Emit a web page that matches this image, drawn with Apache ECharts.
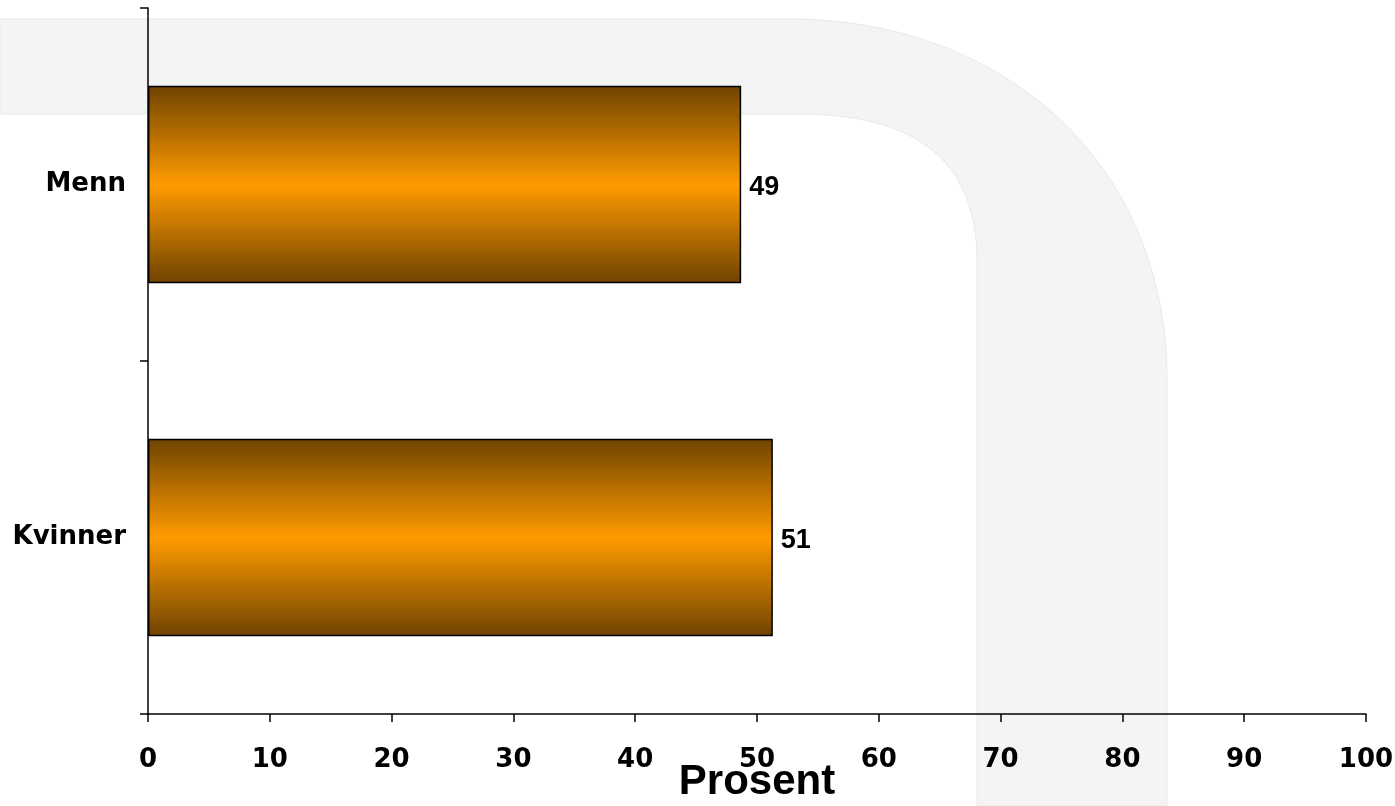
<!DOCTYPE html>
<html>
<head>
<meta charset="utf-8">
<script src="https://cdn.jsdelivr.net/npm/echarts@6/dist/echarts.min.js"></script>
<style>html,body{margin:0;padding:0;background:#fff;}#c{width:1395px;height:806px;}</style>
</head>
<body>
<div id="c"></div>
<script>
const categories = ['Menn', 'Kvinner'];
const values = [48.7, 51.3];
const xTicks = [0, 10, 20, 30, 40, 50, 60, 70, 80, 90, 100];
const axisTitle = 'Prosent';

// decorative background band (pure decoration, not data)
function bez(p0, p1, p2, p3, n) {
  const out = [];
  for (let i = 0; i <= n; i++) {
    const t = i / n, u = 1 - t;
    out.push([
      u*u*u*p0[0] + 3*u*u*t*p1[0] + 3*u*t*t*p2[0] + t*t*t*p3[0],
      u*u*u*p0[1] + 3*u*u*t*p1[1] + 3*u*t*t*p2[1] + t*t*t*p3[1]
    ]);
  }
  return out;
}
const bandPts = [[0, 19]]
  .concat(bez([790, 19], [1000, 19], [1167, 160], [1167, 380], 40))
  .concat([[1167, 806], [977, 806]])
  .concat(bez([977, 260], [977, 165], [920, 114], [800, 114], 30))
  .concat([[0, 114]]);

const chart = echarts.init(document.getElementById('c'));
const barGrad = {
  type: 'linear', x: 0, y: 0, x2: 0, y2: 1,
  colorStops: [
    {offset: 0, color: '#6e4300'},
    {offset: 0.28, color: '#c07400'},
    {offset: 0.5, color: '#ff9b00'},
    {offset: 0.72, color: '#c07400'},
    {offset: 1, color: '#6e4300'}
  ]
};
chart.setOption({
  animation: false,
  backgroundColor: '#ffffff',
  graphic: [{
    type: 'polygon',
    z: -10,
    silent: true,
    shape: {points: bandPts},
    style: {fill: '#f4f4f4', stroke: '#e9e9e9', lineWidth: 1}
  }],
  grid: {left: 148, right: 29, top: 8, bottom: 92, containLabel: false, outerBoundsMode: 'none'},
  xAxis: {
    type: 'value',
    min: xTicks[0],
    max: xTicks[xTicks.length - 1],
    interval: 10,
    name: axisTitle,
    nameLocation: 'middle',
    nameGap: 47,
    nameMoveOverlap: false,
    nameTextStyle: {fontFamily: 'Liberation Sans', fontWeight: 'bold', fontSize: 42, color: '#000'},
    axisLine: {show: true, lineStyle: {color: '#000', width: 1.5}},
    axisTick: {show: true, length: 8, lineStyle: {color: '#000', width: 1.5}},
    axisLabel: {margin: 33, fontFamily: 'DejaVu Sans', fontWeight: 'bold', fontSize: 26, color: '#000'},
    splitLine: {show: false}
  },
  yAxis: {
    type: 'category',
    data: categories,
    inverse: true,
    axisLine: {show: true, lineStyle: {color: '#000', width: 1.5}},
    axisTick: {show: true, length: 8, lineStyle: {color: '#000', width: 1.5}},
    axisLabel: {margin: 22, padding: [8, 0, 0, 0], fontFamily: 'DejaVu Sans', fontWeight: 'bold', fontSize: 26, color: '#000'}
  },
  series: [{
    type: 'bar',
    data: values,
    barWidth: '56%',
    itemStyle: {color: barGrad, borderColor: '#000', borderWidth: 1.5},
    label: {
      show: true,
      position: 'right',
      distance: 8,
      offset: [0, 3],
      formatter: p => Math.round(p.value),
      fontFamily: 'Liberation Sans',
      fontWeight: 'bold',
      fontSize: 27,
      color: '#000'
    }
  }]
});
</script>
</body>
</html>
